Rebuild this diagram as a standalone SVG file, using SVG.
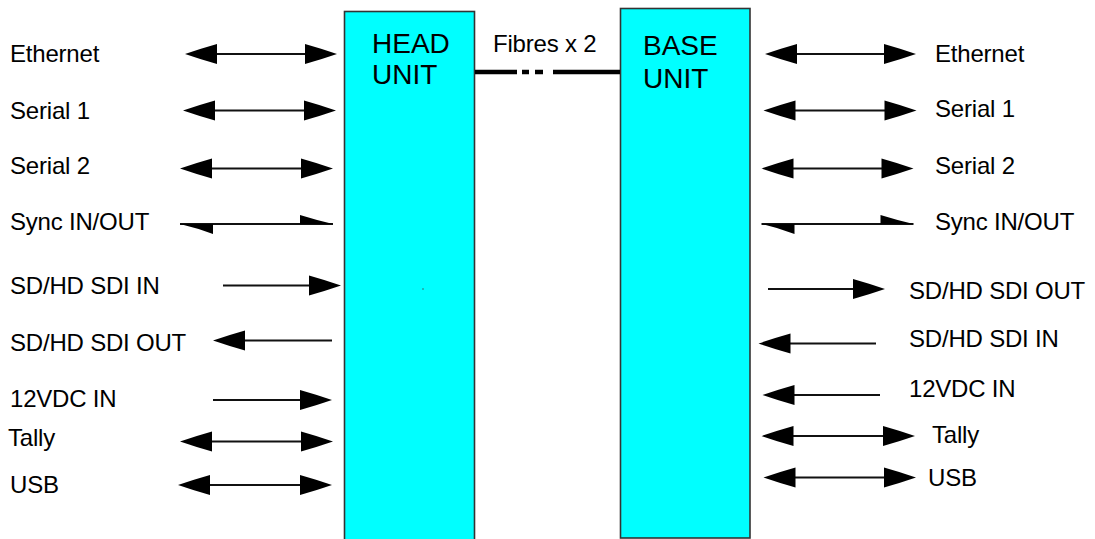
<svg xmlns="http://www.w3.org/2000/svg" xmlns:xlink="http://www.w3.org/1999/xlink" width="1095" height="539" viewBox="0 0 1095 539">
<style>
.box{fill:#00ffff;stroke:#333;stroke-width:1.6}
.lbl{font-family:"Liberation Sans",Arial,sans-serif;font-size:24px;letter-spacing:-0.2px;fill:#000}
.unit{font-family:"Liberation Sans",Arial,sans-serif;font-size:28px;fill:#000}
.ln{stroke:#111;stroke-width:1.8;fill:none}
.hd{fill:#000}
.fibre{stroke:#000;stroke-width:4.5;fill:none}
</style>
<defs>
<path id="ah" class="hd" d="M0,0 Q-16,-5.5 -32,-10 L-32,10 Q-16,5.5 0,0 Z"/>
<path id="ahTop" class="hd" d="M0,0 Q-17,-4 -33,-9 L-33,0 Z"/>
<path id="ahBot" class="hd" d="M0,0 L-33,0 L-33,10 Q-17,4 0,0 Z"/>
</defs>
<rect width="1095" height="539" fill="#fff"/>

<g id="head-unit">
<rect class="box" x="344.5" y="11.5" width="130" height="540"/>
<text class="unit" x="372" y="53">HEAD</text>
<text class="unit" x="372" y="84">UNIT</text>
<circle cx="423" cy="289" r="0.7" fill="#444"/>
</g>
<g id="base-unit">
<rect class="box" x="620.5" y="8.5" width="129.5" height="529.5"/>
<text class="unit" x="643" y="55">BASE</text>
<text class="unit" x="643" y="88">UNIT</text>
</g>

<g id="labels-left">
<text class="lbl" x="10" y="62">Ethernet</text>
<text class="lbl" x="10" y="119">Serial 1</text>
<text class="lbl" x="10" y="174">Serial 2</text>
<text class="lbl" x="10" y="230">Sync IN/OUT</text>
<text class="lbl" x="10" y="294">SD/HD SDI IN</text>
<text class="lbl" x="10" y="351">SD/HD SDI OUT</text>
<text class="lbl" x="10" y="407">12VDC IN</text>
<text class="lbl" x="8" y="446">Tally</text>
<text class="lbl" x="10" y="493">USB</text>
</g>
<g id="labels-right">
<text class="lbl" x="935" y="62">Ethernet</text>
<text class="lbl" x="935" y="117">Serial 1</text>
<text class="lbl" x="935" y="174">Serial 2</text>
<text class="lbl" x="935" y="230">Sync IN/OUT</text>
<text class="lbl" x="909" y="299">SD/HD SDI OUT</text>
<text class="lbl" x="909" y="347">SD/HD SDI IN</text>
<text class="lbl" x="909" y="397">12VDC IN</text>
<text class="lbl" x="932" y="443">Tally</text>
<text class="lbl" x="928" y="486">USB</text>
</g>
<g id="fibre-label">
<text class="lbl" x="493" y="52">Fibres x 2</text>
</g>

<g id="connectors">
<!-- fibre link -->
<line class="fibre" x1="475" y1="72" x2="517" y2="72"/>
<line class="fibre" x1="522" y1="72" x2="529" y2="72"/>
<line class="fibre" x1="535" y1="72" x2="543" y2="72"/>
<line class="fibre" x1="553" y1="72" x2="620" y2="72"/>

<!-- left side -->
<line class="ln" x1="200" y1="54" x2="320" y2="54"/>
<use href="#ah" transform="translate(185,54) scale(-1,1)"/>
<use href="#ah" transform="translate(337,54)"/>

<line class="ln" x1="200" y1="110.5" x2="320" y2="110.5"/>
<use href="#ah" transform="translate(183,110.5) scale(-1,1)"/>
<use href="#ah" transform="translate(336,110.5)"/>

<line class="ln" x1="195" y1="168.5" x2="318" y2="168.5"/>
<use href="#ah" transform="translate(180,168.5) scale(-1,1)"/>
<use href="#ah" transform="translate(333,168.5)"/>

<line class="ln" x1="180" y1="224" x2="333" y2="224"/>
<use href="#ahBot" transform="translate(180,224) scale(-1,1)"/>
<use href="#ahTop" transform="translate(333,224)"/>

<line class="ln" x1="223" y1="285.5" x2="320" y2="285.5"/>
<use href="#ah" transform="translate(341,285.5)"/>

<line class="ln" x1="230" y1="340.5" x2="332" y2="340.5"/>
<use href="#ah" transform="translate(213,340.5) scale(-1,1)"/>

<line class="ln" x1="213" y1="400" x2="315" y2="400"/>
<use href="#ah" transform="translate(332,400)"/>

<line class="ln" x1="195" y1="441.5" x2="318" y2="441.5"/>
<use href="#ah" transform="translate(180,441.5) scale(-1,1)"/>
<use href="#ah" transform="translate(333,441.5)"/>

<line class="ln" x1="195" y1="485" x2="316" y2="485"/>
<use href="#ah" transform="translate(178,485) scale(-1,1)"/>
<use href="#ah" transform="translate(332,485)"/>

<!-- right side -->
<line class="ln" x1="780" y1="54" x2="900" y2="54"/>
<use href="#ah" transform="translate(765,54) scale(-1,1)"/>
<use href="#ah" transform="translate(916,54)"/>

<line class="ln" x1="780" y1="110.5" x2="900" y2="110.5"/>
<use href="#ah" transform="translate(763.5,110.5) scale(-1,1)"/>
<use href="#ah" transform="translate(916.5,110.5)"/>

<line class="ln" x1="775" y1="168.5" x2="898" y2="168.5"/>
<use href="#ah" transform="translate(761.5,168.5) scale(-1,1)"/>
<use href="#ah" transform="translate(913.5,168.5)"/>

<line class="ln" x1="761.5" y1="224" x2="913.5" y2="224"/>
<use href="#ahBot" transform="translate(761.5,224) scale(-1,1)"/>
<use href="#ahTop" transform="translate(913.5,224)"/>

<line class="ln" x1="768" y1="289" x2="865" y2="289"/>
<use href="#ah" transform="translate(885,289)"/>

<line class="ln" x1="775" y1="343.5" x2="876" y2="343.5"/>
<use href="#ah" transform="translate(758.5,343.5) scale(-1,1)"/>

<line class="ln" x1="778" y1="395" x2="880" y2="395"/>
<use href="#ah" transform="translate(762.5,395) scale(-1,1)"/>

<line class="ln" x1="776" y1="436" x2="900" y2="436"/>
<use href="#ah" transform="translate(761.5,436) scale(-1,1)"/>
<use href="#ah" transform="translate(915,436)"/>

<line class="ln" x1="778" y1="477.5" x2="900" y2="477.5"/>
<use href="#ah" transform="translate(763.5,477.5) scale(-1,1)"/>
<use href="#ah" transform="translate(916,477.5)"/>
</g>
</svg>
